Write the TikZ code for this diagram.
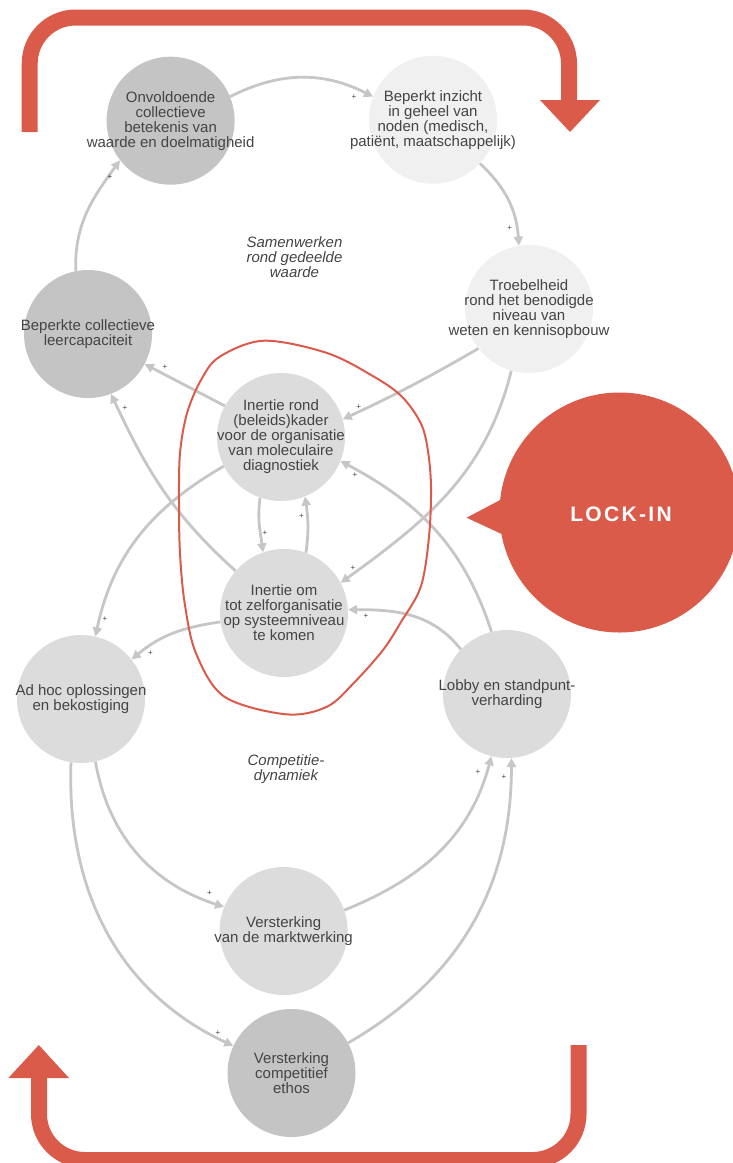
\documentclass[tikz,border=0pt]{standalone}
\usepackage{fontspec}
\setmainfont{Liberation Sans}
\newfontfamily\lockfont[LetterSpace=11]{Liberation Sans}
\usetikzlibrary{arrows.meta}
\definecolor{lockred}{HTML}{DB5B4B}
\definecolor{cdark}{HTML}{C4C4C4}
\definecolor{cmid}{HTML}{DCDCDC}
\definecolor{clight}{HTML}{F0F0F0}
\definecolor{cline}{HTML}{C6C6C6}
\definecolor{ctext}{HTML}{444444}
\begin{document}
\begin{tikzpicture}[x=1pt,y=1pt,
 bub/.style={circle, minimum size=128pt, inner sep=0pt, draw=none},
 dark/.style={bub, fill=cdark}, mid/.style={bub, fill=cmid}, light/.style={bub, fill=clight},
 txt/.style={align=center, text=ctext, font=\fontsize{15}{15}\selectfont, inner sep=0pt},
 lab/.style={align=center, text=ctext, font=\fontsize{15}{15}\selectfont\itshape, inner sep=0pt},
 link/.style={draw=cline, line width=2.8pt, -{Triangle[length=9pt,width=9pt]}},
 plus/.style={font=\fontsize{8}{8}\selectfont, text=ctext, inner sep=0pt},
 bigarrow/.style={draw=lockred, line width=16pt, rounded corners=46pt},
]
\useasboundingbox (0,0) rectangle (733,-1163);

% red loop arrows
\draw[bigarrow] (29.7,-132) -- (29.7,-17.5) -- (569,-17.5) -- (569,-101);
\fill[lockred] (540,-100) -- (600,-100) -- (570,-132) -- cycle;
\draw[bigarrow] (578.5,-1045) -- (578.5,-1160) -- (39,-1160) -- (39,-1077);
\fill[lockred] (8.4,-1078) -- (69,-1078) -- (38.8,-1045) -- cycle;

% lock-in bubble
\node[circle, minimum size=240pt, inner sep=0pt, fill=lockred] (L) at (619.5,-512.5) {};
\fill[lockred] (466.6,-517.7) -- (510,-494.8) -- (510,-537.9) -- cycle;
\node[font=\lockfont\bfseries\fontsize{21}{21}\selectfont, text=white] (Lt) at (621,-514) {LOCK-IN};

% bubbles
\node[dark]  (A) at (170.6,-120.7) {};
\node[light] (B) at (433,-119.7) {};
\node[light] (C) at (529,-309) {};
\node[dark]  (D) at (88,-334) {};
\node[mid]   (E) at (281,-437) {};
\node[mid]   (F) at (284,-613) {};
\node[mid]   (G) at (81,-699) {};
\node[mid]   (H) at (507,-694) {};
\node[mid]   (I) at (283.6,-931) {};
\node[dark]  (J) at (291.5,-1073) {};

% connectors
\draw[link] (A.22) to[out=27,in=153] (B.159);
\draw[link] (B.-43) to[out=-43,in=94] (C.99);
\draw[link] (D.101) to[out=92,in=234] (A.218);
\draw[link] (C.218) to[out=210,in=25] (E.16);
\draw[link] (C.254) to[out=256,in=36] (F.28);
\draw[link] (E.151) -- (D.-28);
\draw[link] (F.139) to[out=138,in=295] (D.-69);
\draw[link] (E.251) to[out=262,in=98] (F.109);
\draw[link] (F.70) to[out=82,in=-82] (E.-68);
\draw[link] (E.207) to[out=210,in=78] (G.77);
\draw[link] (H.104) to[out=108,in=-28] (E.-22);
\draw[link] (H.136) to[out=128,in=0] (F.3);
\draw[link] (F.188) to[out=188,in=40] (G.38);
\draw[link] (G.-77) to[out=-80,in=162] (I.158);
\draw[link] (G.261) to[out=268,in=155] (J.155);
\draw[link] (I.19) to[out=22,in=255] (H.256);
\draw[link] (J.28) to[out=30,in=-90] (H.-86);

% plus signs
\node[plus] (p1) at (354,-97) {+};
\node[plus] (p2) at (509.6,-228) {+};
\node[plus] (p3) at (110,-177) {+};
\node[plus] (p4) at (358.6,-406.7) {+};
\node[plus] (p5) at (353,-567.7) {+};
\node[plus] (p6) at (165,-367) {+};
\node[plus] (p7) at (125,-407.7) {+};
\node[plus] (p8) at (265,-533) {+};
\node[plus] (p9) at (301.5,-516) {+};
\node[plus] (p10) at (105,-619) {+};
\node[plus] (p11) at (355,-475) {+};
\node[plus] (p12) at (366,-616) {+};
\node[plus] (p13) at (150.5,-653) {+};
\node[plus] (p14) at (209.4,-893) {+};
\node[plus] (p15) at (218,-1033) {+};
\node[plus] (p16) at (478,-772) {+};
\node[plus] (p17) at (504,-776.7) {+};

% texts
\node[txt] (At) at (A) {Onvoldoende\\collectieve\\betekenis van\\waarde en doelmatigheid};
\node[txt] (Bt) at (B) {Beperkt inzicht\\in geheel van\\noden (medisch,\\patiënt, maatschappelijk)};
\node[txt] (Ct) at (C) {Troebelheid\\rond het benodigde\\niveau van\\weten en kennisopbouw};
\node[txt] (Dt) at (D) {Beperkte collectieve\\leercapaciteit};
\node[txt] (Et) at (E) {Inertie rond\\(beleids)kader\\voor de organisatie\\van moleculaire\\diagnostiek};
\node[txt] (Ft) at (F) {Inertie om\\tot zelforganisatie\\op systeemniveau\\te komen};
\node[txt] (Gt) at (G) {Ad hoc oplossingen\\en bekostiging};
\node[txt] (Ht) at (H) {Lobby en standpunt-\\verharding};
\node[txt] (It) at (I) {Versterking\\van de marktwerking};
\node[txt] (Jt) at (J) {Versterking\\competitief\\ethos};

\node[lab] (S1) at (294.5,-257) {Samenwerken\\rond gedeelde\\waarde};
\node[lab] (S2) at (286,-769) {Competitie-\\dynamiek};

% red lock-in loop
\draw[lockred, line width=2pt] plot[smooth cycle, tension=0.55] coordinates {
 (264,-340.7) (327,-353) (374,-376.7) (402,-396.7) (420.8,-423.3) (427.8,-450)
 (431,-486.7) (429,-536.7) (420.8,-586.7) (401,-622) (383,-650) (355,-681.7)
 (327,-706.7) (286,-714.3) (224.4,-696.7) (196,-653.3) (184.7,-603.3)
 (180,-553.3) (179,-503.3) (180,-453.3) (187,-413.3) (201,-380) (219.7,-356.7)};
\end{tikzpicture}
\end{document}
